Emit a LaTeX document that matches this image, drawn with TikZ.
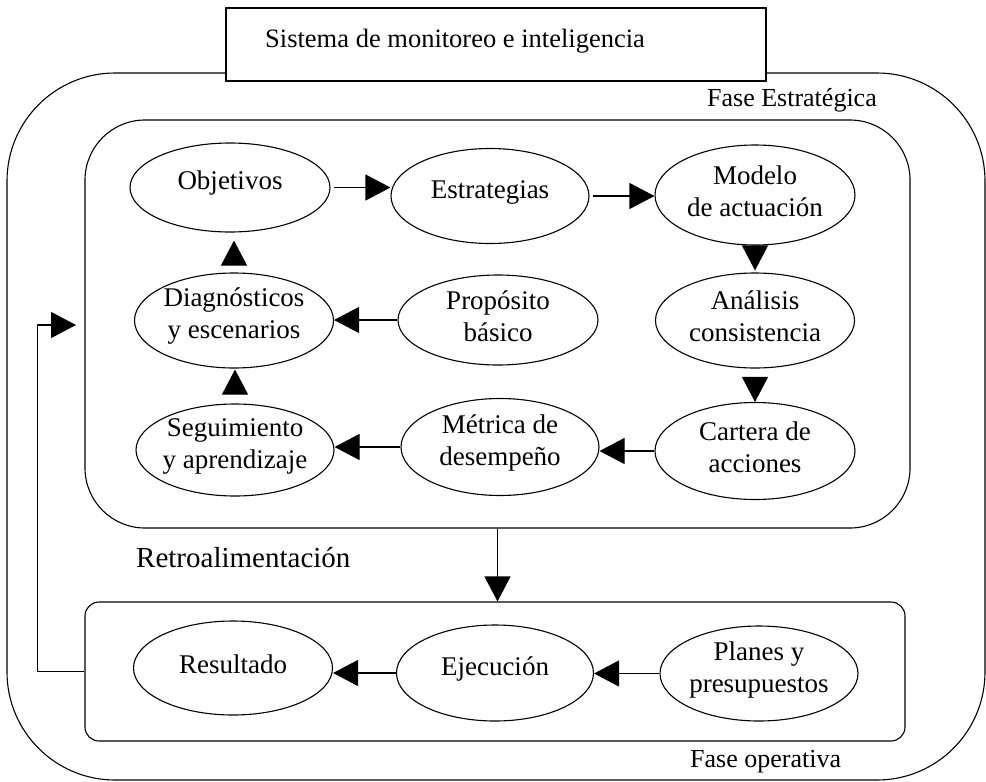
\documentclass[tikz,border=0pt]{standalone}
\usepackage{fontspec}
\setmainfont{Liberation Serif}
\usetikzlibrary{shapes.geometric,arrows.meta}
\begin{document}
\begin{tikzpicture}[x=1pt,y=-1pt,
  every node/.style={font=\fontsize{26}{32}\selectfont},
  frame/.style={draw, line width=1.1pt, inner sep=0pt},
  oval/.style={ellipse, draw, fill=white, line width=1.1pt, inner sep=0pt},
  ovaltext/.style={align=center, inner sep=0pt, yshift=4pt, font=\fontsize{27}{32}\selectfont},
  flow/.style={line width=1.1pt, -{Triangle[length=25pt,width=26pt]}},
]
\useasboundingbox (0,0) rectangle (986,782);

% phase frames
\node[frame, rounded corners=108pt, minimum width=978pt, minimum height=707pt] (outer) at (496,426.5) {};
\node[frame, fill=white, minimum width=540pt, minimum height=73pt] (sys) at (496,44.5) {};
\node[anchor=base west, inner sep=0pt, font=\fontsize{26.5}{32}\selectfont] (systxt) at (265,47) {Sistema de monitoreo e inteligencia};
\node[frame, rounded corners=60pt, minimum width=825pt, minimum height=408pt] (strat) at (497.5,324) {};
\node[frame, rounded corners=14pt, minimum width=820pt, minimum height=139pt] (oper) at (495,671.5) {};

% phase labels
\node[anchor=base east, inner sep=0pt] (lblE) at (877,106) {Fase Estratégica};
\node[anchor=base west, inner sep=0pt] (lblO) at (690,767) {Fase operativa};
\node[anchor=base west, inner sep=0pt, font=\fontsize{29}{34}\selectfont] (lblR) at (136,567) {Retroalimentación};

% strategic phase
\node[oval, minimum width=200pt, minimum height=89pt] (ob) at (230,187.5) {};
\node[ovaltext] (obt) at (ob.center) {Objetivos};
\node[oval, minimum width=198pt, minimum height=95pt] (es) at (490,196) {};
\node[ovaltext] (est) at (es.center) {Estrategias};
\node[oval, minimum width=200pt, minimum height=100pt] (mo) at (755,195) {};
\node[ovaltext] (mot) at (mo.center) {Modelo\\de actuación};

\node[oval, minimum width=199pt, minimum height=95pt] (di) at (234,320.5) {};
\node[ovaltext] (dit) at (di.center) {Diagnósticos\\y escenarios};
\node[oval, minimum width=200pt, minimum height=90pt] (pr) at (498,320) {};
\node[ovaltext] (prt) at (pr.center) {Propósito\\básico};
\node[oval, minimum width=199pt, minimum height=95pt] (an) at (755,320.5) {};
\node[ovaltext] (ant) at (an.center) {Análisis\\consistencia};

\node[oval, minimum width=198pt, minimum height=92pt] (se) at (235,450) {};
\node[ovaltext] (set) at (se.center) {Seguimiento\\y aprendizaje};
\node[oval, minimum width=198pt, minimum height=97pt] (me) at (500,447) {};
\node[ovaltext] (met) at (me.center) {Métrica de\\desempeño};
\node[oval, minimum width=200pt, minimum height=97pt] (ca) at (755,451) {};
\node[ovaltext] (cat) at (ca.center) {Cartera de\\acciones};

% operational phase
\node[oval, minimum width=199pt, minimum height=94pt] (re) at (233,668) {};
\node[ovaltext] (ret) at (re.center) {Resultado};
\node[oval, minimum width=197pt, minimum height=96pt] (ej) at (495,673) {};
\node[ovaltext] (ejt) at (ej.center) {Ejecución};
\node[oval, minimum width=198pt, minimum height=95pt] (pl) at (759,673.5) {};
\node[ovaltext] (plt) at (pl.center) {Planes y\\presupuestos};

% connectors
\draw[flow, shorten <=3pt] (ob.east) -- (ob.east -| es.west);
\draw[flow, shorten <=3pt] (es.east) -- (es.east -| mo.west);
\draw[flow, shorten <=2pt, shorten >=2pt] (mo.south) -- (an.north);
\draw[flow, shorten <=10pt] (an.south) -- (ca.north);
\draw[flow] (ca.west) -- (ca.west -| me.east);
\draw[flow] (me.west) -- (me.west -| se.east);
\draw[flow, shorten <=11pt, shorten >=1pt] (se.north) -- (se.north |- di.south);
\draw[flow] (pr.west) -- (pr.west -| di.east);
\draw[flow, shorten <=8pt, shorten >=8pt] (di.north) -- (di.north |- ob.south);

\draw[flow] (strat.south) -- (strat.south |- oper.north);
\draw[flow] (pl.west) -- (pl.west -| ej.east);
\draw[flow] (ej.west) -- (ej.west -| re.east);

\coordinate (fbend) at (76,325);
\draw[flow] (oper.west) -- ++(-47,0) |- (fbend);
\end{tikzpicture}
\end{document}
